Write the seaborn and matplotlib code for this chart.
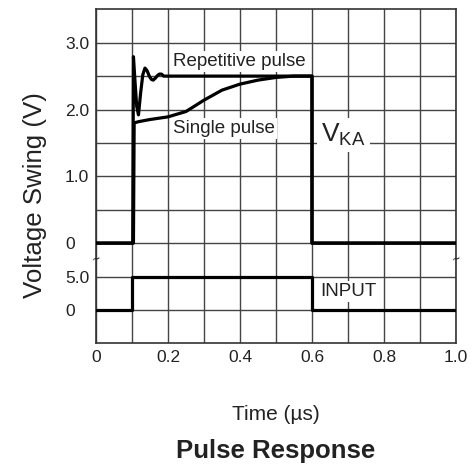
import matplotlib
matplotlib.use("Agg")
import matplotlib.pyplot as plt
import seaborn as sns
import pandas as pd

# time axis in microseconds
rep_t = [0, 0.102, 0.104, 0.108, 0.113, 0.118, 0.124, 0.130, 0.136, 0.142, 0.148,
         0.154, 0.159, 0.165, 0.171, 0.176, 0.182, 0.188, 0.195, 0.6, 0.6, 1.0]
rep_v = [0, 0, 2.79, 2.45, 2.05, 1.92, 2.25, 2.52, 2.62, 2.58, 2.50,
         2.45, 2.44, 2.47, 2.51, 2.53, 2.53, 2.50, 2.50, 2.50, 0, 0]

single_t = [0, 0.104, 0.106, 0.12, 0.15, 0.2, 0.25, 0.3, 0.35, 0.4, 0.45, 0.5, 0.55, 0.6, 0.6, 1.0]
single_v = [0, 0, 1.80, 1.82, 1.85, 1.89, 1.97, 2.14, 2.29, 2.38, 2.44, 2.48, 2.50, 2.50, 0, 0]

input_t = [0, 0.1, 0.1, 0.6, 0.6, 1.0]
input_v = [0, 0, 5.0, 5.0, 0, 0]

x_ticks = [0, 0.2, 0.4, 0.6, 0.8, 1.0]
x_labels = ["0", "0.2", "0.4", "0.6", "0.8", "1.0"]
vka_ticks = [0, 1.0, 2.0, 3.0]
vka_labels = ["0", "1.0", "2.0", "3.0"]
in_ticks = [0, 5.0]
in_labels = ["0", "5.0"]


def vka_row(v):
    # V_KA panel: 0 V sits on grid row 2, one row per 0.5 V
    return 2 + 2 * v


def in_row(v):
    # input panel: 0 V on row 0, 5 V on row 1
    return v / 5.0


sns.set_style("white")
plt.rcParams["font.family"] = ["Liberation Sans", "DejaVu Sans"]
plt.rcParams["mathtext.fontset"] = "custom"
plt.rcParams["mathtext.rm"] = "Liberation Sans"

df_rep = pd.DataFrame({"t": rep_t, "row": [vka_row(v) for v in rep_v]})
df_single = pd.DataFrame({"t": single_t, "row": [vka_row(v) for v in single_v]})
df_in = pd.DataFrame({"t": input_t, "row": [in_row(v) for v in input_v]})

fig = plt.figure(figsize=(4.75, 4.65), dpi=100)
ax = fig.add_axes([0.2021, 0.2617, 0.7579, 0.7183])

line_kw = dict(x="t", y="row", sort=False, estimator=None, color="black",
               linewidth=2.3, ax=ax, zorder=4)
sns.lineplot(data=df_rep, **line_kw)
sns.lineplot(data=df_single, **line_kw)
sns.lineplot(data=df_in, **line_kw)

ax.set_xlim(0, 1.0)
ax.set_ylim(-1, 9)

# grid: every 0.1 us, every row
ax.set_xticks(x_ticks)
ax.set_xticklabels(x_labels)
ax.set_xticks([0.1, 0.3, 0.5, 0.7, 0.9], minor=True)
y_pos = [in_row(v) for v in in_ticks] + [vka_row(v) for v in vka_ticks]
ax.set_yticks(y_pos)
ax.set_yticklabels(in_labels + vka_labels)
ax.set_yticks([3, 5, 7], minor=True)
ax.grid(which="both", color="#444444", linewidth=1.0)
ax.set_axisbelow(True)
ax.tick_params(which="both", length=0, labelsize=12.5, colors="#222222")
ax.tick_params(axis="x", pad=5)
ax.tick_params(axis="y", pad=22.3)
for lab in ax.get_yticklabels():
    lab.set_horizontalalignment("left")

for s in ax.spines.values():
    s.set_color("#333333")
    s.set_linewidth(1.2)
    s.set_visible(True)

ax.set_xlabel("")
ax.set_ylabel("Voltage Swing (V)", fontsize=18.6, color="#222222")
ax.yaxis.set_label_coords(-0.135, 0.444)
ax.text(0.5, -0.185, "Time (\u00b5s)", transform=ax.transAxes, ha="center",
        va="top", fontsize=15, color="#222222")
ax.text(0.5, -0.285, "Pulse Response", transform=ax.transAxes, ha="center",
        va="top", fontsize=18.5, fontweight="bold", color="#222222")

box = dict(facecolor="white", edgecolor="none", pad=1.5)
ax.text(0.214, vka_row(2.72), "Repetitive pulse", ha="left", va="center",
        fontsize=13.5, color="#222222", bbox=box, zorder=3)
ax.text(0.214, vka_row(1.71), "Single pulse", ha="left", va="center",
        fontsize=13.5, color="#222222", bbox=box, zorder=3)
ax.text(0.625, vka_row(1.62), r"$\mathrm{V_{KA}}$", ha="left", va="center",
        fontsize=19, color="#222222", bbox=dict(facecolor="white", edgecolor="none", pad=3),
        zorder=3)
ax.text(0.622, in_row(2.75), "INPUT", ha="left", va="center",
        fontsize=13.5, color="#222222", bbox=box, zorder=3)

# axis break marks between the two panels
for xb in (0, 1.0):
    ax.text(xb, 1.5, "~", ha="center", va="center", fontsize=10, rotation=20,
            color="#222222", clip_on=False, zorder=5)

fig.savefig("out.png", dpi=100)
